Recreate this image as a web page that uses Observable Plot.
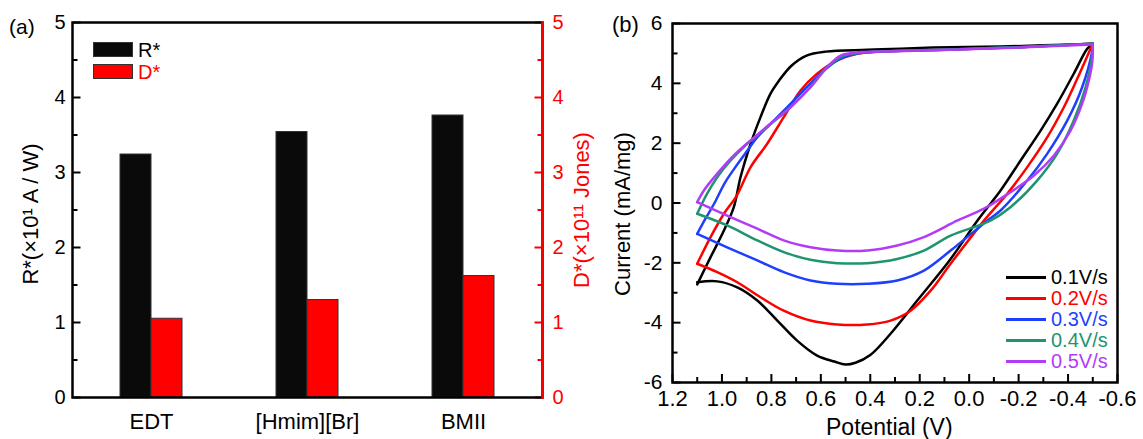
<!DOCTYPE html>
<html>
<head>
<meta charset="utf-8">
<script src="https://cdn.jsdelivr.net/npm/d3@7"></script>
<script src="https://cdn.jsdelivr.net/npm/@observablehq/plot@0.6"></script>
<style>
  body { margin: 0; background: #fff; }
  #wrap { position: relative; width: 1143px; height: 439px; background: #fff; font-family: "Liberation Sans", Arial, sans-serif; color: #000; overflow: hidden; }
  .abs { position: absolute; white-space: nowrap; line-height: 1; }
  .tight { line-height: 0.9; }
  .rot { transform: translate(-50%, -50%) rotate(-90deg); transform-origin: center; }
  #pa, #pb { position: absolute; top: 0; }
  #pa { left: 0; }
  #pb { left: 600px; }
  .swatch { position: absolute; box-sizing: border-box; border: 1px solid #333; }
  .lgline { position: absolute; height: 3px; width: 40px; }
</style>
</head>
<body>
<div id="wrap">
  <div id="pa"></div>
  <div id="pb"></div>
</div>
<script>
// ---------- Panel (a) data ----------
const categories = ["EDT", "[Hmim][Br]", "BMII"];
const responsivity = [3.24, 3.54, 3.76];   // R* (x10^1 A/W)
const detectivity = [1.05, 1.30, 1.62];    // D* (x10^11 Jones)
const barTicks = [0, 1, 2, 3, 4, 5];
const barMinorTicks = [0.5, 1.5, 2.5, 3.5, 4.5];
const barSeries = ["R*", "D*"];
const barColors = ["#0a0a0a", "#ff0000"];

// ---------- Panel (b) data : [potential V, current mA/mg] ----------
const scanRates = ["0.1V/s", "0.2V/s", "0.3V/s", "0.4V/s", "0.5V/s"];
const scanColors = ["#000000", "#ff0000", "#1f3fff", "#1f9470", "#b23cf6"];
const cv01 = [[1.10,-2.72],[1.046,-1.81],[0.992,-0.92],[0.952,-0.14],[0.925,0.86],[0.884,1.98],[0.844,2.87],[0.804,3.65],[0.77,4.08],[0.72,4.58],[0.66,4.92],[0.58,5.06],[0.412,5.12],[0.278,5.16],[0.075,5.21],[-0.127,5.23],[-0.30,5.27],[-0.50,5.32],
  [-0.478,5.16],[-0.423,4.32],[-0.356,3.32],[-0.289,2.42],[-0.208,1.42],[-0.127,0.42],[-0.033,-0.59],[0.075,-1.87],[0.21,-3.26],[0.318,-4.37],[0.40,-5.08],[0.46,-5.34],[0.50,-5.40],[0.545,-5.30],[0.615,-5.10],[0.696,-4.60],[0.776,-3.93],[0.857,-3.26],[0.938,-2.82],[1.019,-2.62],[1.10,-2.65]];
const cv02 = [[1.10,-2.03],[1.046,-1.14],[0.992,-0.36],[0.94,0.25],[0.884,1.20],[0.817,1.98],[0.75,2.87],[0.682,3.76],[0.615,4.32],[0.534,4.77],[0.453,4.99],[0.345,5.07],[0.075,5.13],[-0.20,5.21],[-0.50,5.32],
  [-0.488,5.10],[-0.437,4.15],[-0.383,3.20],[-0.316,2.20],[-0.235,1.20],[-0.154,0.31],[-0.06,-0.59],[0.075,-2.03],[0.156,-2.93],[0.237,-3.60],[0.318,-3.93],[0.412,-4.06],[0.534,-4.06],[0.642,-3.93],[0.75,-3.60],[0.844,-3.15],[0.938,-2.65],[1.019,-2.31],[1.10,-2.03]];
const cv03 = [[1.10,-1.03],[1.065,-0.50],[1.03,0.0],[0.99,0.65],[0.95,1.15],[0.90,1.72],[0.857,2.20],[0.776,2.87],[0.696,3.54],[0.615,4.21],[0.534,4.77],[0.453,5.0],[0.30,5.08],[0.075,5.13],[-0.20,5.21],[-0.50,5.32],
  [-0.498,5.10],[-0.457,3.87],[-0.397,2.76],[-0.316,1.65],[-0.235,0.75],[-0.127,-0.25],[-0.073,-0.59],[0.075,-1.59],[0.183,-2.26],[0.291,-2.59],[0.412,-2.70],[0.534,-2.70],[0.642,-2.59],[0.75,-2.31],[0.857,-1.92],[0.979,-1.48],[1.10,-1.03]];
const cv04 = [[1.10,-0.36],[1.06,0.31],[1.019,0.86],[0.965,1.42],[0.898,1.98],[0.817,2.54],[0.723,3.20],[0.642,3.87],[0.574,4.54],[0.507,4.93],[0.426,5.03],[0.30,5.08],[0.075,5.13],[-0.20,5.21],[-0.50,5.32],
  [-0.498,4.93],[-0.471,3.87],[-0.423,2.76],[-0.356,1.65],[-0.275,0.75],[-0.167,-0.14],[-0.086,-0.59],[0.075,-1.09],[0.183,-1.59],[0.291,-1.87],[0.412,-2.01],[0.534,-2.01],[0.642,-1.90],[0.75,-1.64],[0.857,-1.25],[0.979,-0.75],[1.10,-0.36]];
const cv05 = [[1.10,0.03],[1.073,0.42],[1.019,0.98],[0.952,1.59],[0.884,2.09],[0.804,2.65],[0.723,3.20],[0.642,3.87],[0.574,4.54],[0.52,4.93],[0.453,5.03],[0.30,5.07],[0.075,5.12],[-0.20,5.20],[-0.50,5.30],
  [-0.498,4.71],[-0.484,4.10],[-0.457,3.32],[-0.41,2.42],[-0.343,1.59],[-0.262,0.92],[-0.167,0.36],[-0.06,-0.19],[0.049,-0.59],[0.075,-0.70],[0.183,-1.14],[0.291,-1.42],[0.412,-1.59],[0.534,-1.59],[0.642,-1.48],[0.75,-1.25],[0.857,-0.86],[0.979,-0.42],[1.10,0.03]];
const cvCurves = [cv01, cv02, cv03, cv04, cv05];
const cvTicksX = [1.2, 1.0, 0.8, 0.6, 0.4, 0.2, 0.0, -0.2, -0.4, -0.6];
const cvMinorX = [1.1, 0.9, 0.7, 0.5, 0.3, 0.1, -0.1, -0.3, -0.5];
const cvTicksY = [-6, -4, -2, 0, 2, 4, 6];
const cvMinorY = [-5, -3, -1, 1, 3, 5];

const FONT = "'Liberation Sans', Arial, Helvetica, sans-serif";

// inward y-axis tick drawn as a small filled bar (len px long, 2 px thick)
function tickShape(len, side) {
  const x0 = side === "left" ? 0 : -len;
  return {draw(ctx) { ctx.moveTo(x0, -1); ctx.lineTo(x0 + len, -1); ctx.lineTo(x0 + len, 1); ctx.lineTo(x0, 1); ctx.closePath(); }};
}
function yTicks(values, len, side, color) {
  return Plot.dot(values, {y: d => d, frameAnchor: side, symbol: tickShape(len, side), fill: color, stroke: "none"});
}

// ---------- Panel (a) ----------
const barRows = categories.map((c, i) => ({category: c, r: responsivity[i], d: detectivity[i]}));
const plotA = Plot.plot({
  width: 600, height: 439,
  marginLeft: 72, marginRight: 58, marginTop: 22, marginBottom: 42,
  style: {fontFamily: FONT, background: "transparent", color: "#000"},
  x: {domain: categories, paddingInner: 0.604, paddingOuter: 0.303, align: 0.5},
  y: {domain: [0, 5]},
  marks: [
    Plot.barY(barRows, {x: "category", y: "r", fill: barColors[0], stroke: "#333", strokeWidth: 1, insetRight: 31}),
    Plot.barY(barRows, {x: "category", y: "d", fill: barColors[1], stroke: "#333", strokeWidth: 1, insetLeft: 31}),
    Plot.axisX({tickSize: 0, tickPadding: 16, fontSize: 22, label: null}),
    Plot.axisY({ticks: barTicks, tickSize: 0, tickPadding: 7, fontSize: 20, label: null, tickFormat: d => String(d)}),
    Plot.axisY({anchor: "right", ticks: barTicks, tickSize: 0, tickPadding: 10, fontSize: 20, color: "#ff0000", label: null, tickFormat: d => String(d)}),
    yTicks(barTicks, 8, "left", "#000"),
    yTicks(barMinorTicks, 5, "left", "#000"),
    yTicks(barTicks, 8, "right", "#ff0000"),
    yTicks(barMinorTicks, 5, "right", "#ff0000"),
    Plot.frame({stroke: "#000", strokeWidth: 2.5}),
    Plot.frame({anchor: "right", stroke: "#ff0000", strokeWidth: 2.5})
  ]
});
document.getElementById("pa").appendChild(plotA);

// ---------- Panel (b) ----------
// each loop is split at its turning point (most negative potential) so the vertex stays sharp
const cvRows = cvCurves.flatMap((pts, s) => {
  const turn = d3.minIndex(pts, p => p[0]);
  return pts.map(([v, i], j) => [
    ...(j <= turn ? [{rate: scanRates[s], seg: scanRates[s] + "-fwd", v, i}] : []),
    ...(j >= turn ? [{rate: scanRates[s], seg: scanRates[s] + "-rev", v, i}] : [])
  ]).flat();
});
const plotB = Plot.plot({
  width: 543, height: 439,
  marginLeft: 72, marginRight: 26, marginTop: 23, marginBottom: 57,
  style: {fontFamily: FONT, background: "transparent", color: "#000"},
  x: {domain: [1.2, -0.6]},
  y: {domain: [-6, 6]},
  color: {domain: scanRates, range: scanColors},
  marks: [
    Plot.line(cvRows, {x: "v", y: "i", z: "seg", stroke: "rate", strokeWidth: 2.5, curve: "catmull-rom"}),
    Plot.axisX({ticks: cvTicksX, tickSize: 8, insetBottom: 8, tickPadding: 8, strokeWidth: 2, fontSize: 22, label: null, tickFormat: d => d.toFixed(1)}),
    Plot.axisX({ticks: cvMinorX, tickSize: 5, insetBottom: 5, strokeWidth: 2, label: null, tickFormat: () => ""}),
    Plot.axisY({ticks: cvTicksY, tickSize: 0, tickPadding: 10, fontSize: 21, label: null, tickFormat: d => String(d)}),
    yTicks(cvTicksY, 8, "left", "#000"),
    yTicks(cvMinorY, 5, "left", "#000"),
    Plot.frame({stroke: "#000", strokeWidth: 2.5})
  ]
});
document.getElementById("pb").appendChild(plotB);

// ---------- Text overlays (titles, panel labels, legends) ----------
const wrap = document.getElementById("wrap");
function addText(txt, {left, top, size, color = "#000", rotate = false, cls = ""}) {
  const el = document.createElement("div");
  el.className = "abs" + (rotate ? " rot" : "") + (cls ? " " + cls : "");
  el.textContent = txt;
  el.style.left = left + "px";
  el.style.top = top + "px";
  el.style.fontSize = size + "px";
  el.style.color = color;
  wrap.appendChild(el);
  return el;
}
addText("(a)", {left: 9, top: 16, size: 21});
addText("(b)", {left: 612, top: 14, size: 22});
addText("R*(×10¹ A / W)", {left: 31, top: 214, size: 22, rotate: true});
addText("D*(×10¹¹ Jones)", {left: 582, top: 210, size: 22, color: "#ff0000", rotate: true});
addText("Current (mA/mg)", {left: 623, top: 214, size: 22, rotate: true});
addText("Potential (V)", {left: 826, top: 416, size: 23});

// legend (a)
barSeries.forEach((name, k) => {
  const sw = document.createElement("div");
  sw.className = "swatch";
  sw.style.left = "93px";
  sw.style.top = (42 + k * 22) + "px";
  sw.style.width = "40px";
  sw.style.height = "15px";
  sw.style.background = barColors[k];
  wrap.appendChild(sw);
  addText(name, {left: 138, top: 41 + k * 22, size: 20, color: k === 0 ? "#000" : "#ff0000", cls: "tight"});
});

// legend (b)
scanRates.forEach((name, k) => {
  const y = 277 + k * 21;
  const ln = document.createElement("div");
  ln.className = "lgline";
  ln.style.left = "1006px";
  ln.style.top = (y - 1.5) + "px";
  ln.style.background = scanColors[k];
  wrap.appendChild(ln);
  addText(name, {left: 1051, top: y - 9, size: 20, color: scanColors[k], cls: "tight"});
});
</script>
</body>
</html>
